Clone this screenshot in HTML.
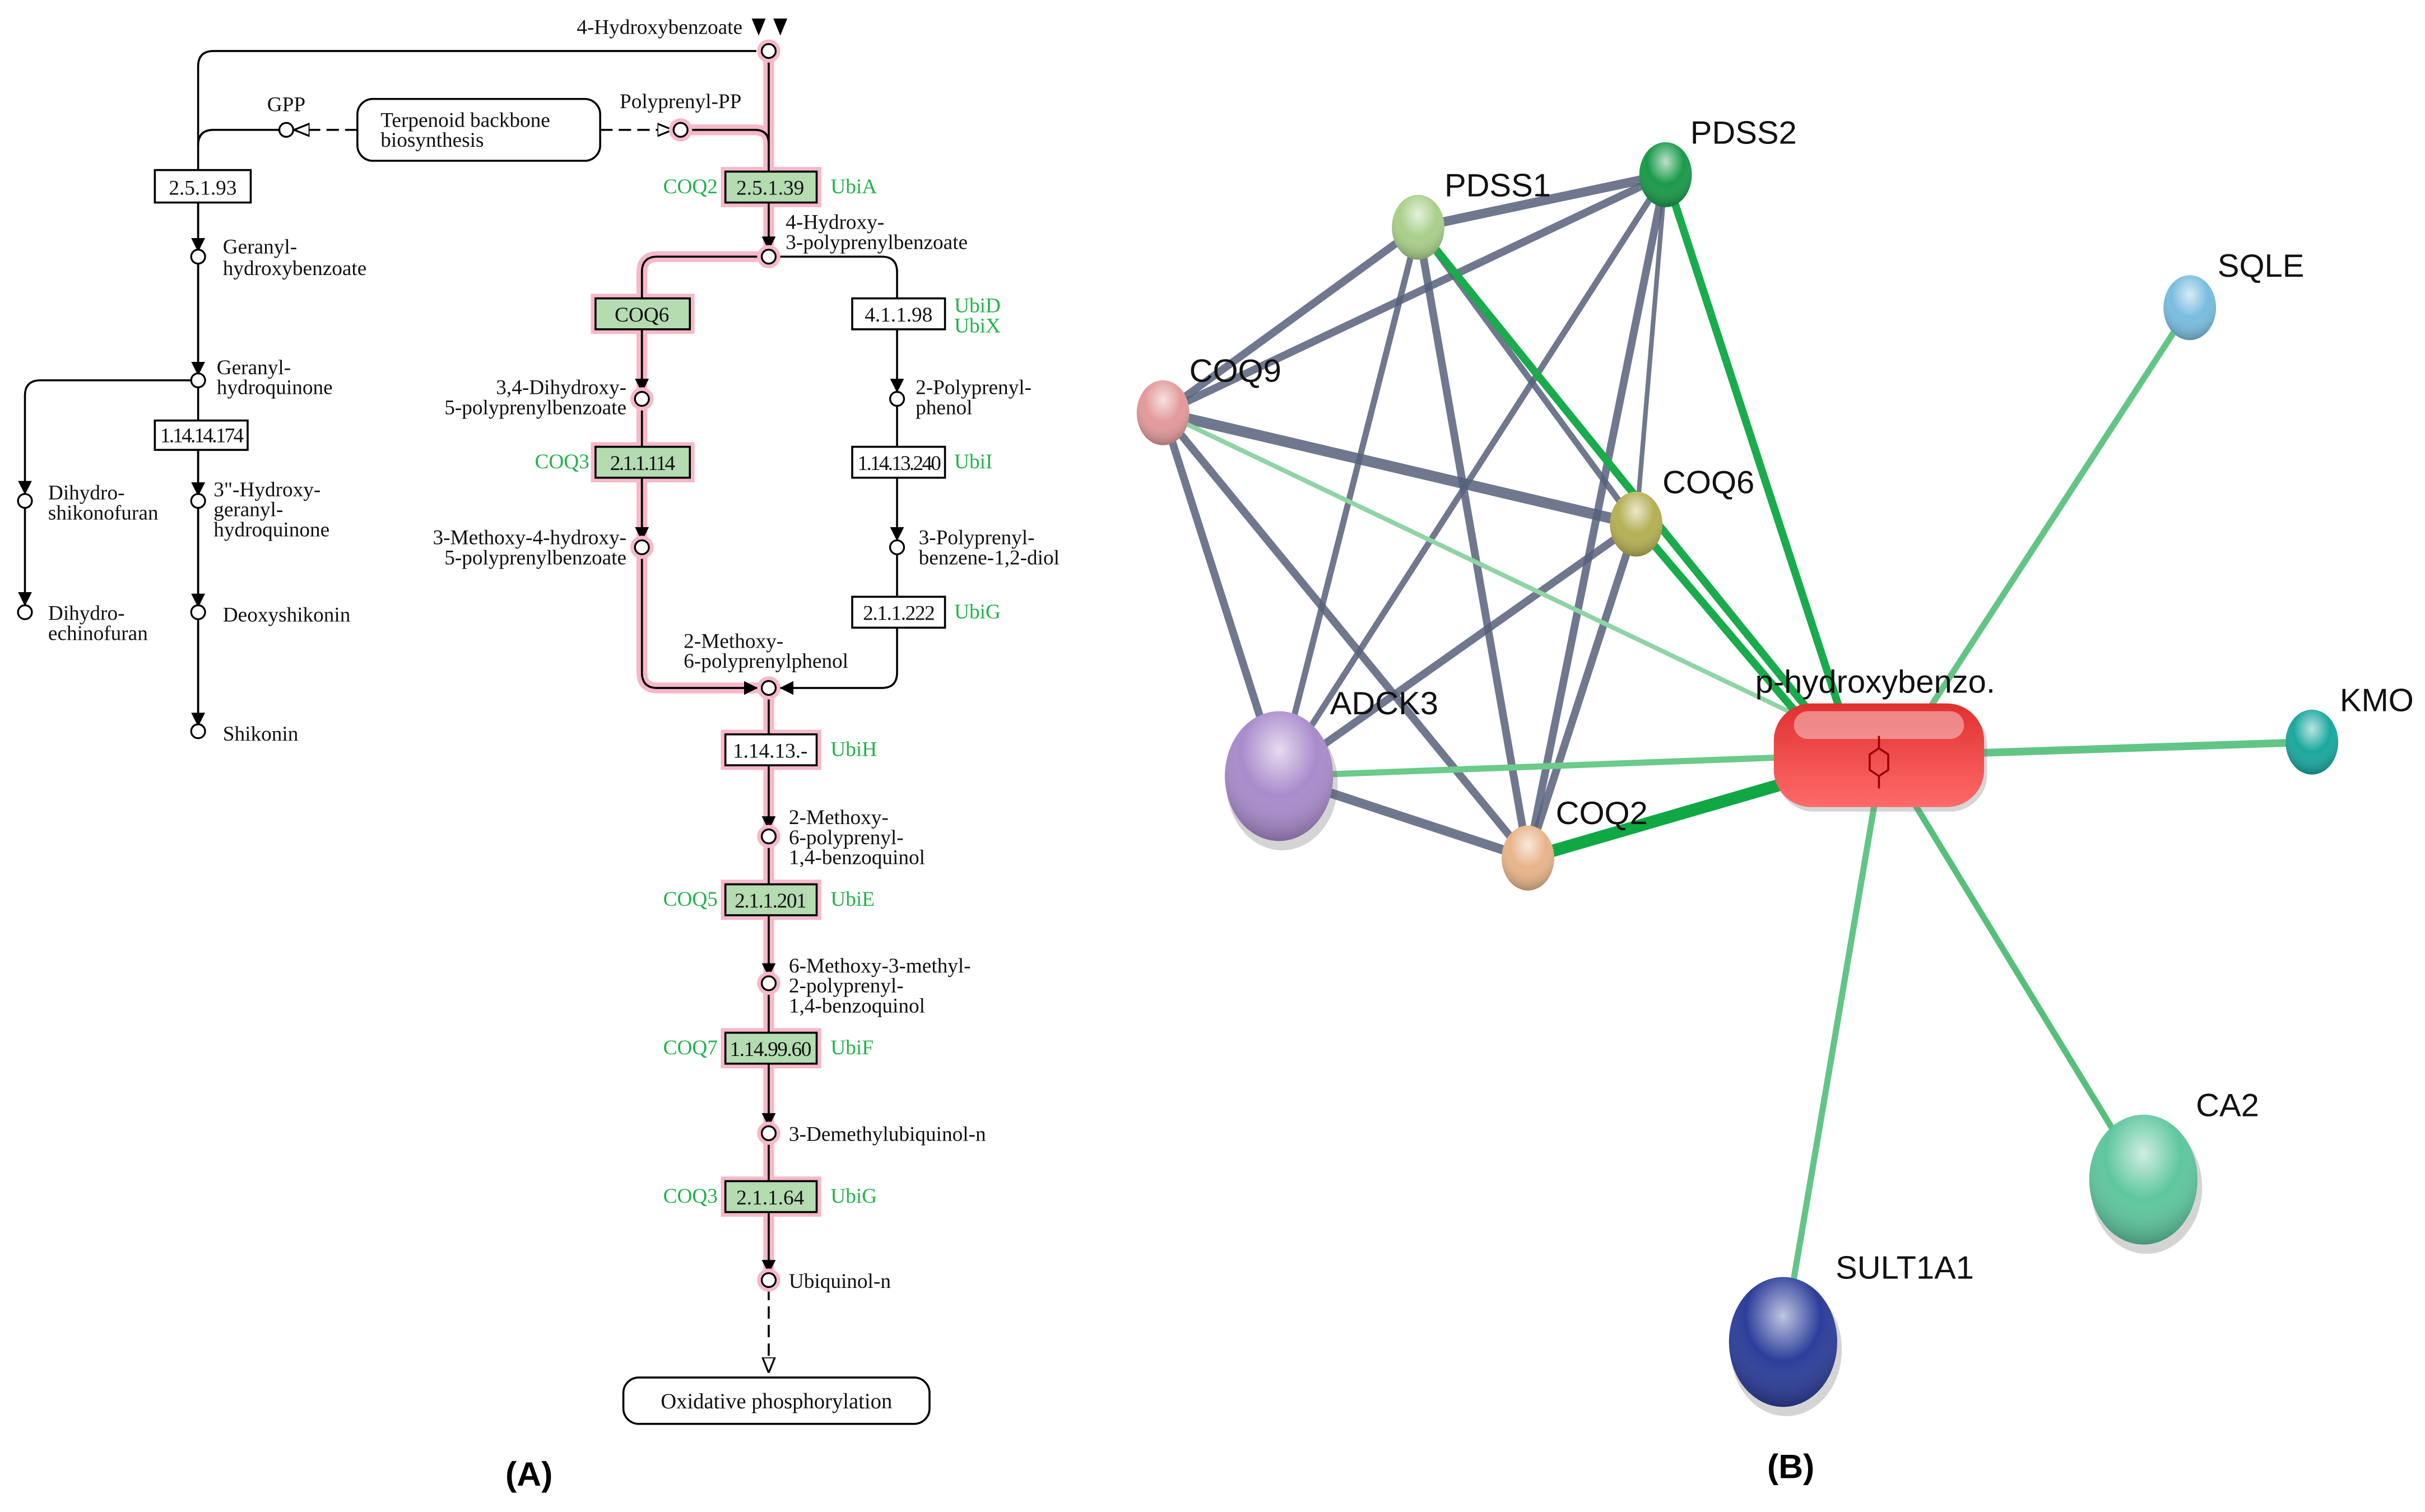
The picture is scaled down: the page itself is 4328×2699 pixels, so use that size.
<!DOCTYPE html>
<html><head><meta charset="utf-8"><style>
html,body{margin:0;padding:0;background:#fff;}
svg{display:block;}
.t{font-family:"Liberation Serif",serif;font-size:13.5px;fill:#111;}
.g{font-family:"Liberation Serif",serif;font-size:13.5px;fill:#22b24c;}
.n{font-family:"Liberation Sans",sans-serif;font-size:21px;fill:#111;}
</style></head><body>
<svg width="4328" height="2699" viewBox="0 0 1568 978" xmlns="http://www.w3.org/2000/svg">
<defs>
<marker id="ah" viewBox="0 0 10 10" refX="10" refY="5" markerWidth="9" markerHeight="9" orient="auto" markerUnits="userSpaceOnUse"><path d="M0,0L10,5L0,10z" fill="#000"/></marker>
<marker id="oh" viewBox="0 0 10 10" refX="10" refY="5" markerWidth="10" markerHeight="10" orient="auto" markerUnits="userSpaceOnUse"><path d="M0,1L10,5L0,9z" fill="#fff" stroke="#000" stroke-width="1.2"/></marker>
<radialGradient id="gr" cx="50%" cy="30%" r="70%"><stop offset="0" stop-color="#fff" stop-opacity=".7"/><stop offset=".5" stop-color="#fff" stop-opacity="0"/><stop offset="1" stop-color="#000" stop-opacity=".25"/></radialGradient>
<linearGradient id="rg" x1="0" y1="0" x2="0" y2="1"><stop offset="0" stop-color="#e03030"/><stop offset="1" stop-color="#ff6a6a"/></linearGradient>
</defs>
<rect width="1568" height="978" fill="#fff"/>

<!-- pink highlights -->
<g stroke="#f7b8c8" stroke-width="7" fill="none" stroke-linecap="round">
<path d="M497,33V166"/>
<path d="M497,445V828"/>
<path d="M440,84H488Q497,84 497,93"/>
<path d="M497,166H425Q415,166 415,176V435Q415,445 425,445H497"/>
</g>
<g fill="#f7b8c8">
<rect x="466" y="108" width="65" height="26"/><rect x="382" y="190" width="67" height="26"/>
<rect x="382" y="286" width="67" height="26"/><rect x="466" y="472" width="65" height="26"/>
<rect x="466" y="569" width="65" height="26"/><rect x="466" y="665" width="65" height="26"/>
<rect x="466" y="761" width="65" height="26"/>
</g>
<!-- black lines -->
<g stroke="#000" stroke-width="1.3" fill="none">
<path d="M497,33V131"/>
<path d="M497,445V475"/>
<path d="M440,84H488Q497,84 497,93"/>
<path d="M493,166H425Q415,166 415,176V435Q415,445 425,445H490" marker-end="url(#ah)"/>
<path d="M489,33H138Q128,33 128,43V470"/>
<path d="M180,84H138Q128,84 128,94"/>
<path d="M128,131V163" marker-end="url(#ah)"/>
<path d="M128,170V243" marker-end="url(#ah)"/>
<path d="M128,291V321" marker-end="url(#ah)"/>
<path d="M128,328V393" marker-end="url(#ah)"/>
<path d="M128,400V470" marker-end="url(#ah)"/>
<path d="M124,246H26Q16,246 16,256V320" marker-end="url(#ah)"/>
<path d="M16,328V392" marker-end="url(#ah)"/>
<path d="M497,131V162" marker-end="url(#ah)"/>
<path d="M415,213V254" marker-end="url(#ah)"/>
<path d="M415,309V350" marker-end="url(#ah)"/>
<path d="M501,166H570Q580,166 580,176V254" marker-end="url(#ah)"/>
<path d="M580,262V350" marker-end="url(#ah)"/>
<path d="M580,358V435Q580,445 570,445H504" marker-end="url(#ah)"/>
<path d="M497,495V537" marker-end="url(#ah)"/>
<path d="M497,592V632" marker-end="url(#ah)"/>
<path d="M497,688V729" marker-end="url(#ah)"/>
<path d="M497,784V824" marker-end="url(#ah)"/>
<path d="M497,546V572"/><path d="M497,641V668"/><path d="M497,738V764"/>
<path d="M497,833V888" stroke-dasharray="8,4" marker-end="url(#oh)"/>
<path d="M231,84H190" stroke-dasharray="8,4" marker-end="url(#oh)"/>
<path d="M388,84H435" stroke-dasharray="8,4" marker-end="url(#oh)"/>
</g>
<path d="M486,12h9l-4.5,11z M500,12h9l-4.5,11z" fill="#000"/>
<!-- nodes -->
<g stroke="#000" stroke-width="1.2" fill="#fff">
<circle cx="185" cy="84" r="4.5"/><circle cx="128" cy="166" r="4.5"/><circle cx="128" cy="246" r="4.5"/>
<circle cx="128" cy="324" r="4.5"/><circle cx="128" cy="396" r="4.5"/><circle cx="128" cy="473" r="4.5"/>
<circle cx="16" cy="324" r="4.5"/><circle cx="16" cy="396" r="4.5"/>
<circle cx="580" cy="258" r="4.5"/><circle cx="580" cy="354" r="4.5"/>
</g>
<g stroke="#000" stroke-width="1.2" fill="#fff">
<circle cx="497" cy="33" r="6" stroke="#f7b8c8" stroke-width="3"/><circle cx="497" cy="33" r="4.5"/>
<circle cx="440" cy="84" r="6" stroke="#f7b8c8" stroke-width="3"/><circle cx="440" cy="84" r="4.5"/>
<circle cx="497" cy="166" r="6" stroke="#f7b8c8" stroke-width="3"/><circle cx="497" cy="166" r="4.5"/>
<circle cx="415" cy="258" r="6" stroke="#f7b8c8" stroke-width="3"/><circle cx="415" cy="258" r="4.5"/>
<circle cx="415" cy="354" r="6" stroke="#f7b8c8" stroke-width="3"/><circle cx="415" cy="354" r="4.5"/>
<circle cx="497" cy="445" r="6" stroke="#f7b8c8" stroke-width="3"/><circle cx="497" cy="445" r="4.5"/>
<circle cx="497" cy="541" r="6" stroke="#f7b8c8" stroke-width="3"/><circle cx="497" cy="541" r="4.5"/>
<circle cx="497" cy="636" r="6" stroke="#f7b8c8" stroke-width="3"/><circle cx="497" cy="636" r="4.5"/>
<circle cx="497" cy="733" r="6" stroke="#f7b8c8" stroke-width="3"/><circle cx="497" cy="733" r="4.5"/>
<circle cx="497" cy="828" r="6" stroke="#f7b8c8" stroke-width="3"/><circle cx="497" cy="828" r="4.5"/>
</g>
<!-- boxes -->
<g stroke="#000" stroke-width="1.3">
<rect x="231" y="64" width="157" height="40" rx="10" fill="#fff"/>
<rect x="100" y="110" width="62" height="21" fill="#fff"/>
<rect x="100" y="272" width="60" height="19" fill="#fff"/>
<rect x="469" y="111" width="59" height="20" fill="#b5dbb0"/>
<rect x="385" y="193" width="61" height="20" fill="#b5dbb0"/>
<rect x="385" y="289" width="61" height="20" fill="#b5dbb0"/>
<rect x="551" y="193" width="60" height="20" fill="#fff"/>
<rect x="551" y="289" width="60" height="20" fill="#fff"/>
<rect x="551" y="386" width="60" height="20" fill="#fff"/>
<rect x="469" y="475" width="59" height="20" fill="#fff"/>
<rect x="469" y="572" width="59" height="20" fill="#b5dbb0"/>
<rect x="469" y="668" width="59" height="20" fill="#b5dbb0"/>
<rect x="469" y="764" width="59" height="20" fill="#b5dbb0"/>
<rect x="403" y="891" width="198" height="30" rx="10" fill="#fff"/>
</g>
<!-- texts A -->
<g class="t">
<text x="480" y="22" text-anchor="end">4-Hydroxybenzoate</text>
<text x="185" y="72" text-anchor="middle">GPP</text>
<text x="440" y="70" text-anchor="middle">Polyprenyl-PP</text>
<text x="246" y="82">Terpenoid backbone</text><text x="246" y="95">biosynthesis</text>
<text x="131" y="126" text-anchor="middle">2.5.1.93</text>
<text x="144" y="164">Geranyl-</text><text x="144" y="178">hydroxybenzoate</text>
<text x="140" y="242">Geranyl-</text><text x="140" y="255">hydroquinone</text>
<text x="130" y="286" text-anchor="middle" style="letter-spacing:-1px">1.14.14.174</text>
<text x="31" y="323">Dihydro-</text><text x="31" y="336">shikonofuran</text>
<text x="31" y="401">Dihydro-</text><text x="31" y="414">echinofuran</text>
<text x="138" y="321">3"-Hydroxy-</text><text x="138" y="334">geranyl-</text><text x="138" y="347">hydroquinone</text>
<text x="144" y="402">Deoxyshikonin</text>
<text x="144" y="479">Shikonin</text>
<text x="498" y="126" text-anchor="middle">2.5.1.39</text>
<text x="508" y="148">4-Hydroxy-</text><text x="508" y="161">3-polyprenylbenzoate</text>
<text x="415" y="208" text-anchor="middle">COQ6</text>
<text x="405" y="255" text-anchor="end">3,4-Dihydroxy-</text><text x="405" y="268" text-anchor="end">5-polyprenylbenzoate</text>
<text x="415" y="304" text-anchor="middle" style="letter-spacing:-1px">2.1.1.114</text>
<text x="405" y="352" text-anchor="end">3-Methoxy-4-hydroxy-</text><text x="405" y="365" text-anchor="end">5-polyprenylbenzoate</text>
<text x="581" y="208" text-anchor="middle">4.1.1.98</text>
<text x="592" y="255">2-Polyprenyl-</text><text x="592" y="268">phenol</text>
<text x="581" y="304" text-anchor="middle" style="letter-spacing:-1px">1.14.13.240</text>
<text x="594" y="352">3-Polyprenyl-</text><text x="594" y="365">benzene-1,2-diol</text>
<text x="581" y="401" text-anchor="middle" style="letter-spacing:-0.5px">2.1.1.222</text>
<text x="442" y="419">2-Methoxy-</text><text x="442" y="432">6-polyprenylphenol</text>
<text x="498" y="490" text-anchor="middle">1.14.13.-</text>
<text x="510" y="533">2-Methoxy-</text><text x="510" y="546">6-polyprenyl-</text><text x="510" y="559">1,4-benzoquinol</text>
<text x="498" y="587" text-anchor="middle" style="letter-spacing:-0.5px">2.1.1.201</text>
<text x="510" y="629">6-Methoxy-3-methyl-</text><text x="510" y="642">2-polyprenyl-</text><text x="510" y="655">1,4-benzoquinol</text>
<text x="498" y="683" text-anchor="middle" style="letter-spacing:-0.5px">1.14.99.60</text>
<text x="510" y="738">3-Demethylubiquinol-n</text>
<text x="498" y="779" text-anchor="middle">2.1.1.64</text>
<text x="510" y="833">Ubiquinol-n</text>
<text x="502" y="911" text-anchor="middle" style="font-size:14px">Oxidative phosphorylation</text>
</g>
<g class="g">
<text x="464" y="125" text-anchor="end">COQ2</text><text x="537" y="125">UbiA</text>
<text x="381" y="303" text-anchor="end">COQ3</text>
<text x="617" y="202">UbiD</text><text x="617" y="215">UbiX</text>
<text x="617" y="303">UbiI</text><text x="617" y="400">UbiG</text>
<text x="537" y="489">UbiH</text>
<text x="464" y="586" text-anchor="end">COQ5</text><text x="537" y="586">UbiE</text>
<text x="464" y="682" text-anchor="end">COQ7</text><text x="537" y="682">UbiF</text>
<text x="464" y="778" text-anchor="end">COQ3</text><text x="537" y="778">UbiG</text>
</g>
<text x="342" y="961" text-anchor="middle" style="font-family:'Liberation Sans',sans-serif;font-weight:bold;font-size:22px">(A)</text>
<text x="1158" y="956" text-anchor="middle" style="font-family:'Liberation Sans',sans-serif;font-weight:bold;font-size:22px">(B)</text>

<!-- Network edges -->
<g stroke="#56607a" stroke-opacity=".85" stroke-linecap="round">
<line x1="917" y1="147" x2="1077" y2="113" stroke-width="6"/>
<line x1="917" y1="147" x2="752" y2="267" stroke-width="5"/>
<line x1="917" y1="147" x2="1058" y2="339" stroke-width="4"/>
<line x1="917" y1="147" x2="827" y2="502" stroke-width="4"/>
<line x1="917" y1="147" x2="988" y2="555" stroke-width="5"/>
<line x1="1077" y1="113" x2="752" y2="267" stroke-width="5"/>
<line x1="1077" y1="113" x2="1058" y2="339" stroke-width="3"/>
<line x1="1077" y1="113" x2="827" y2="502" stroke-width="4"/>
<line x1="1077" y1="113" x2="988" y2="555" stroke-width="5"/>
<line x1="752" y1="267" x2="1058" y2="339" stroke-width="7"/>
<line x1="752" y1="267" x2="827" y2="502" stroke-width="5"/>
<line x1="752" y1="267" x2="988" y2="555" stroke-width="5"/>
<line x1="1058" y1="339" x2="827" y2="502" stroke-width="5"/>
<line x1="1058" y1="339" x2="988" y2="555" stroke-width="5"/>
<line x1="827" y1="502" x2="988" y2="555" stroke-width="6"/>
</g>
<g stroke-linecap="round">
<line x1="752" y1="267" x2="1215" y2="488" stroke="#8fd4a5" stroke-width="3"/>
<line x1="917" y1="147" x2="1170" y2="460" stroke="#1aab4c" stroke-width="5"/>
<line x1="1077" y1="113" x2="1190" y2="460" stroke="#1aab4c" stroke-width="5"/>
<line x1="1058" y1="339" x2="1165" y2="465" stroke="#1aab4c" stroke-width="5"/>
<line x1="988" y1="555" x2="1160" y2="505" stroke="#0fa844" stroke-width="8"/>
<line x1="827" y1="502" x2="1150" y2="490" stroke="#6cca8a" stroke-width="4"/>
<line x1="1416" y1="199" x2="1240" y2="470" stroke="#63c585" stroke-width="4"/>
<line x1="1495" y1="480" x2="1280" y2="487" stroke="#63c585" stroke-width="5"/>
<line x1="1386" y1="763" x2="1235" y2="515" stroke="#56c07a" stroke-width="4"/>
<line x1="1153" y1="868" x2="1213" y2="515" stroke="#63c585" stroke-width="4"/>
</g>
<!-- Network nodes -->
<g>
<ellipse cx="917" cy="147" rx="17" ry="21" fill="#a9d08a"/><ellipse cx="917" cy="147" rx="17" ry="21" fill="url(#gr)"/>
<ellipse cx="1077" cy="113" rx="17" ry="21" fill="#1a9a4a"/><ellipse cx="1077" cy="113" rx="17" ry="21" fill="url(#gr)"/>
<ellipse cx="1416" cy="199" rx="17" ry="21" fill="#79bde0"/><ellipse cx="1416" cy="199" rx="17" ry="21" fill="url(#gr)"/>
<ellipse cx="752" cy="267" rx="17" ry="21" fill="#e39a9a"/><ellipse cx="752" cy="267" rx="17" ry="21" fill="url(#gr)"/>
<ellipse cx="1058" cy="339" rx="17" ry="21" fill="#b5b054"/><ellipse cx="1058" cy="339" rx="17" ry="21" fill="url(#gr)"/>
<ellipse cx="1495" cy="480" rx="17" ry="21" fill="#1aa89e"/><ellipse cx="1495" cy="480" rx="17" ry="21" fill="url(#gr)"/>
<ellipse cx="988" cy="555" rx="17" ry="21" fill="#e8b48a"/><ellipse cx="988" cy="555" rx="17" ry="21" fill="url(#gr)"/>
<ellipse cx="829" cy="507" rx="36" ry="43" fill="#555" opacity=".25"/>
<ellipse cx="827" cy="502" rx="35" ry="42" fill="#a98bcb"/><ellipse cx="827" cy="502" rx="35" ry="42" fill="url(#gr)"/>
<ellipse cx="1388" cy="768" rx="36" ry="43" fill="#555" opacity=".25"/>
<ellipse cx="1386" cy="763" rx="35" ry="42" fill="#5ec79e"/><ellipse cx="1386" cy="763" rx="35" ry="42" fill="url(#gr)"/>
<ellipse cx="1155" cy="873" rx="36" ry="43" fill="#555" opacity=".25"/>
<ellipse cx="1153" cy="868" rx="35" ry="42" fill="#2c3e9a"/><ellipse cx="1153" cy="868" rx="35" ry="42" fill="url(#gr)"/>
<rect x="1149" y="458" width="136" height="67" rx="24" fill="#777" opacity=".3"/>
<rect x="1147" y="455" width="136" height="67" rx="24" fill="url(#rg)"/>
<rect x="1160" y="460" width="110" height="18" rx="9" fill="#fff" opacity=".4"/>
<path d="M1215,476v8l-6,4v10l6,4 6-4v-10l-6-4 M1215,502v8" stroke="#900" stroke-width="1.3" fill="none"/>
</g>
<g class="n">
<text x="934" y="127">PDSS1</text>
<text x="1093" y="93">PDSS2</text>
<text x="1434" y="179">SQLE</text>
<text x="769" y="247">COQ9</text>
<text x="1075" y="319">COQ6</text>
<text x="860" y="462">ADCK3</text>
<text x="1135" y="448">p-hydroxybenzo.</text>
<text x="1513" y="460">KMO</text>
<text x="1006" y="533">COQ2</text>
<text x="1420" y="722">CA2</text>
<text x="1187" y="827">SULT1A1</text>
</g>
</svg>
</body></html>
